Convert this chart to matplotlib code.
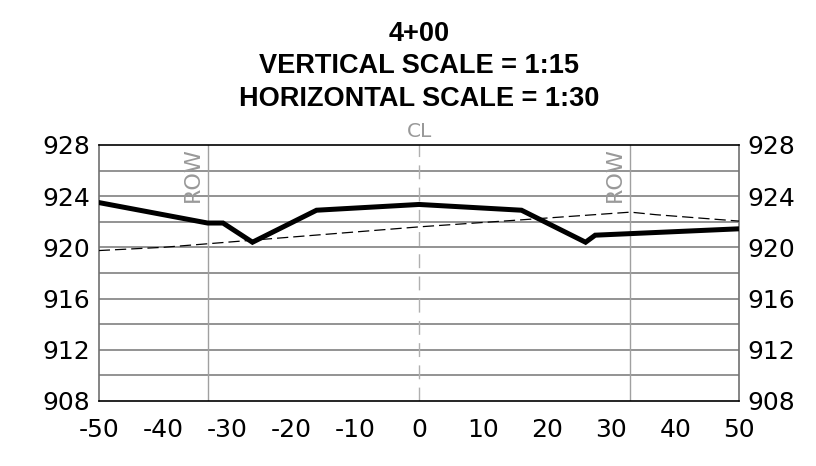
import matplotlib
matplotlib.use('Agg')
import matplotlib.pyplot as plt

# cross section 4+00
offset_ground = [-50, -33, -30.6, -26, -16, 0, 16, 26, 27.5, 50]
elev_ground = [923.5, 921.9, 921.9, 920.4, 922.9, 923.35, 922.9, 920.4, 920.95, 921.45]

offset_exist = [-50, -40, 0, 16, 33, 37, 50]
elev_exist = [919.75, 920.0, 921.6, 922.15, 922.75, 922.55, 922.05]

row_offsets = [-33, 33]
yticks = [908, 912, 916, 920, 924, 928]
xticks = [-50, -40, -30, -20, -10, 0, 10, 20, 30, 40, 50]

fig = plt.figure(figsize=(8.16, 4.66), dpi=100)
ax = fig.add_axes([0.121, 0.1395, 0.785, 0.5495])

ax.set_xlim(-50, 50)
ax.set_ylim(908, 928)

# horizontal grid every 2
for y in range(910, 928, 2):
    ax.axhline(y, color='#808080', lw=1.2, zorder=1)

for x in row_offsets:
    ax.axvline(x, color='#a0a0a0', lw=1.0, zorder=1)
    ax.text(x - 0.8, 927.8, 'ROW', rotation=90, ha='right', va='top',
            color='#999999', fontsize=16, family='DejaVu Sans')

ax.axvline(0, color='#b0b0b0', lw=1.0, dashes=(10, 6), zorder=1)
ax.text(0, 928.3, 'CL', ha='center', va='bottom', color='#999999',
        fontsize=14.5, family='DejaVu Sans')

ax.plot(offset_exist, elev_exist, color='black', lw=0.9, dashes=(9, 4), zorder=3)
ax.plot(offset_ground, elev_ground, color='black', lw=3.6, zorder=4,
        solid_joinstyle='miter')

ax.set_xticks(xticks)
ax.set_yticks(yticks)
ax.set_xticklabels([str(v) for v in xticks], fontsize=18)
ax.set_yticklabels([str(v) for v in yticks], fontsize=18)
ax.tick_params(axis='both', length=0)
ax.tick_params(axis='x', pad=12)
ax.tick_params(axis='y', pad=6, labelright=True, right=False)

for s in ['top', 'bottom']:
    ax.spines[s].set_color('black')
    ax.spines[s].set_linewidth(1.2)
for s in ['left', 'right']:
    ax.spines[s].set_color('#707070')
    ax.spines[s].set_linewidth(1.2)

fig.text(0.514, 0.858, '4+00\nVERTICAL SCALE = 1:15\nHORIZONTAL SCALE = 1:30',
         ha='center', va='center', fontsize=19.5, fontweight='bold',
         family='Liberation Sans', linespacing=1.33)

fig.savefig('out.png', dpi=100)
